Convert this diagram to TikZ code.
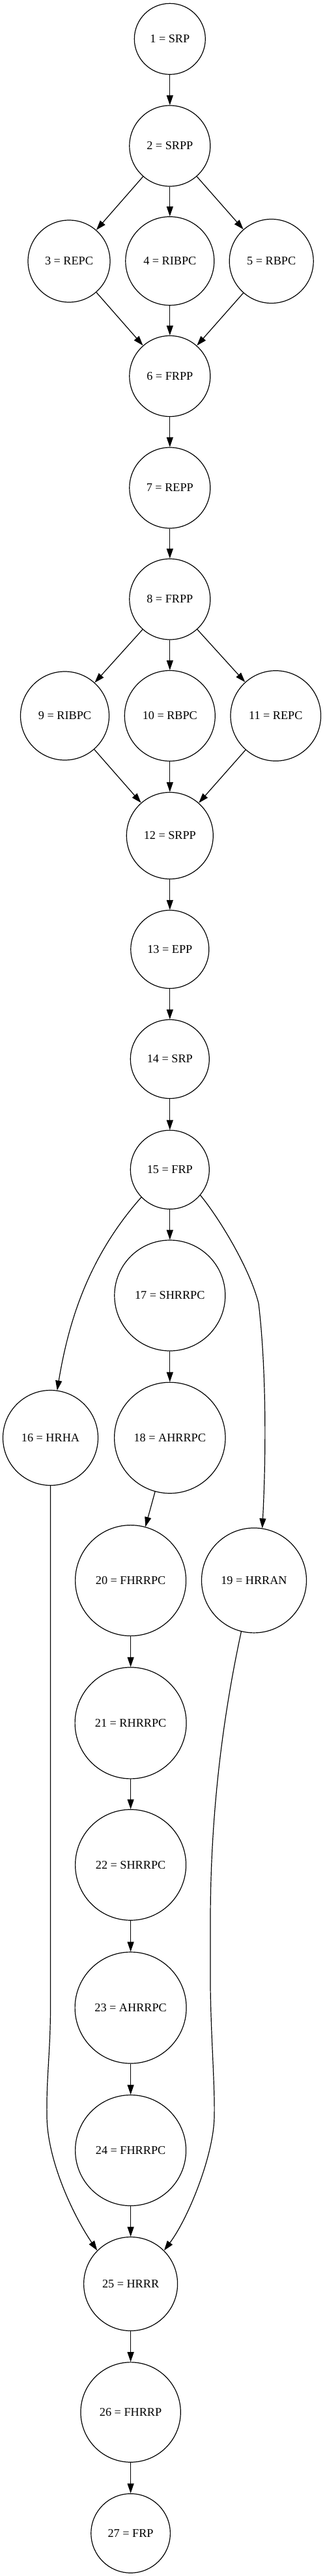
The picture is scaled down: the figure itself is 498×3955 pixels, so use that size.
\documentclass[tikz,border=0pt]{standalone}
\usepackage{fontspec}
\setmainfont{Liberation Serif}
\usetikzlibrary{arrows.meta}
\begin{document}
\begin{tikzpicture}[x=1pt,y=-1pt,
  st/.style={draw, circle, line width=1.2pt, inner sep=0pt, font=\fontsize{18.2}{20}\selectfont},
  ed/.style={line width=1.2pt, -{Triangle[length=15pt,width=10pt]}}]
\useasboundingbox (0,0) rectangle (498,3955);
\node[st,minimum size=109pt] (n1) at (260.8,59.8) {1 = SRP};
\node[st,minimum size=124pt] (n2) at (260.8,224) {2 = SRPP};
\node[st,minimum size=126pt] (n3) at (106,401) {3 = REPC};
\node[st,minimum size=136pt] (n4) at (260.8,400.7) {4 = RIBPC};
\node[st,minimum size=129pt] (n5) at (416.7,401) {5 = RBPC};
\node[st,minimum size=124pt] (n6) at (260.8,577.5) {6 = FRPP};
\node[st,minimum size=124pt] (n7) at (260.8,749) {7 = REPP};
\node[st,minimum size=124pt] (n8) at (260.8,920) {8 = FRPP};
\node[st,minimum size=136pt] (n9) at (99.5,1099) {9 = RIBPC};
\node[st,minimum size=139pt] (n10) at (260.8,1099) {10 = RBPC};
\node[st,minimum size=138.6pt] (n11) at (423.3,1099) {11 = REPC};
\node[st,minimum size=133pt] (n12) at (260.8,1283) {12 = SRPP};
\node[st,minimum size=120pt] (n13) at (260.8,1457.5) {13 = EPP};
\node[st,minimum size=121pt] (n14) at (260.8,1626) {14 = SRP};
\node[st,minimum size=121pt] (n15) at (260.8,1795.8) {15 = FRP};
\node[st,minimum size=170pt] (n17) at (260.8,1989) {17 = SHRRPC};
\node[st,minimum size=146pt] (n16) at (77.5,2207.5) {16 = HRHA};
\node[st,minimum size=170.4pt] (n18) at (260.8,2207.5) {18 = AHRRPC};
\node[st,minimum size=170pt] (n20) at (200.6,2426.6) {20 = FHRRPC};
\node[st,minimum size=161pt] (n19) at (390,2426.4) {19 = HRRAN};
\node[st,minimum size=171pt] (n21) at (200.6,2645.4) {21 = RHRRPC};
\node[st,minimum size=170pt] (n22) at (200.6,2863.2) {22 = SHRRPC};
\node[st,minimum size=171pt] (n23) at (200.6,3082.5) {23 = AHRRPC};
\node[st,minimum size=170pt] (n24) at (200.6,3301.5) {24 = FHRRPC};
\node[st,minimum size=144pt] (n25) at (200.6,3506.5) {25 = HRRR};
\node[st,minimum size=153.4pt] (n26) at (200.6,3703.5) {26 = FHRRP};
\node[st,minimum size=121.6pt] (n27) at (200.6,3889.4) {27 = FRP};

\foreach \a/\b in {n1/n2,n2/n3,n2/n4,n2/n5,n3/n6,n4/n6,n5/n6,n6/n7,n7/n8,n8/n9,n8/n10,n8/n11,n9/n12,n10/n12,n11/n12,n12/n13,n13/n14,n14/n15,n15/n17,n17/n18,n18/n20,n20/n21,n21/n22,n22/n23,n23/n24,n24/n25,n25/n26,n26/n27}
  \draw[ed] (\a) -- (\b);

\draw[ed] (n15.224) .. controls (132.5,1933.4) and (104.3,2035.6) .. (n16.82);
\draw[ed] (n15.-40) .. controls (335,1868) and (383,1946) .. (397,2001) .. controls (409,2101) and (408.6,2235) .. (n19.81);
\draw[ed] (n16.south) -- (77.5,3080) .. controls (77.5,3150) and (71,3190) .. (72,3250) .. controls (73,3320) and (114.7,3405) .. (n25.135);
\draw[ed] (n19.-104) .. controls (338.5,2653) and (323,2800) .. (323,2950) -- (323,3050) .. controls (324,3130) and (330,3200) .. (329,3250) .. controls (328,3310) and (288.7,3406.4) .. (n25.45);
\end{tikzpicture}
\end{document}
